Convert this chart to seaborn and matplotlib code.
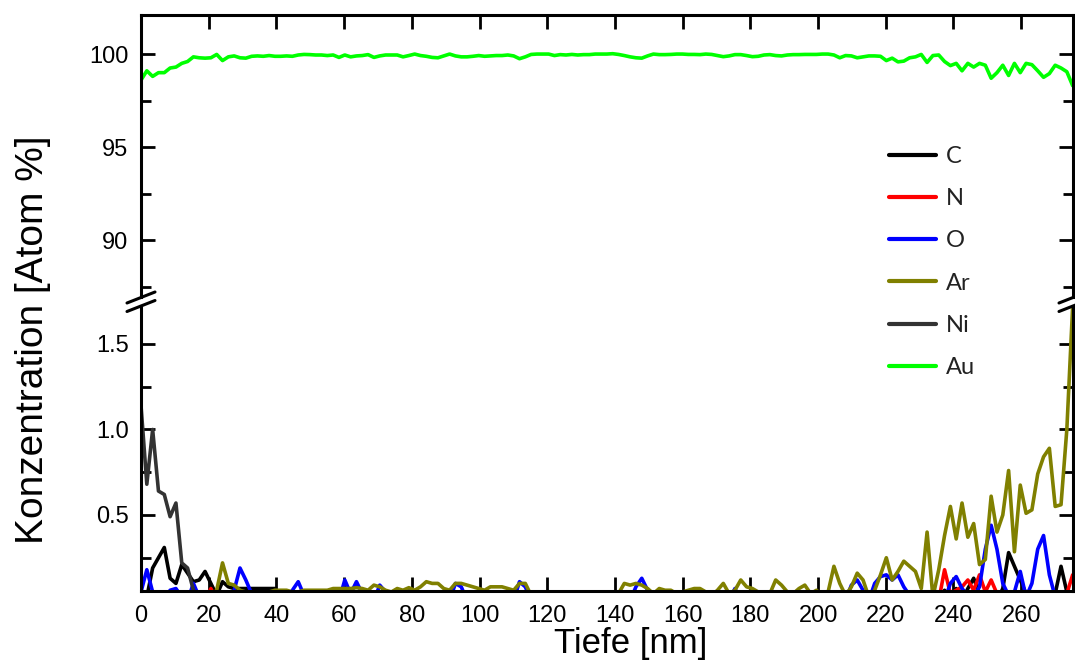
import numpy as np
import pandas as pd
import seaborn as sns
import matplotlib.pyplot as plt
from matplotlib.lines import Line2D
from matplotlib.ticker import MultipleLocator

# ========================================== DATA ==========================================

elements = ['C', 'N', 'O', 'Ar', 'Ni', 'Au']
colors = ['#000000', '#ff0000', '#0000ff', '#808000', '#333333', '#00ff00']

# depth grid of the profile (161 sputter steps)
depth = np.round(np.arange(161) * 1.72, 2)

c_values = [
    0.05, 0.02, 0.19, 0.25, 0.31, 0.13, 0.10, 0.21, 0.16, 0.11,
    0.12, 0.17, 0.10, 0.03, 0.11, 0.08, 0.07, 0.07, 0.07, 0.07,
    0.07, 0.07, 0.07, 0.07, 0.02, 0, 0, 0, 0, 0,
    0, 0, 0, 0, 0, 0, 0, 0, 0, 0,
    0, 0, 0, 0, 0, 0, 0.06, 0, 0, 0,
    0, 0, 0, 0, 0, 0, 0, 0, 0, 0,
    0, 0, 0, 0, 0, 0, 0, 0, 0, 0,
    0, 0, 0, 0, 0, 0, 0, 0, 0, 0,
    0, 0, 0, 0, 0, 0, 0, 0, 0, 0,
    0, 0, 0, 0, 0, 0, 0, 0, 0, 0,
    0, 0, 0, 0, 0, 0, 0, 0, 0, 0,
    0, 0, 0, 0, 0, 0, 0, 0, 0, 0,
    0, 0, 0, 0, 0, 0, 0, 0, 0, 0,
    0, 0, 0, 0, 0, 0, 0.04, 0, 0.06, 0,
    0.07, 0, 0.07, 0.13, 0.04, 0, 0, 0, 0.07, 0.28,
    0.20, 0.12, 0.04, 0, 0, 0, 0, 0.04, 0.20, 0.05,
    0.03,
]

n_values = [
    0, 0, 0, 0, 0, 0, 0, 0, 0, 0,
    0, 0, 0.07, 0, 0, 0, 0, 0, 0, 0,
    0, 0, 0, 0, 0, 0, 0, 0, 0, 0,
    0, 0, 0, 0, 0, 0, 0, 0, 0, 0,
    0, 0, 0, 0, 0, 0, 0, 0, 0, 0,
    0, 0, 0, 0, 0, 0, 0, 0, 0, 0,
    0, 0, 0, 0, 0, 0, 0, 0, 0, 0,
    0, 0, 0, 0, 0, 0, 0, 0, 0, 0,
    0, 0, 0, 0, 0, 0, 0, 0, 0, 0,
    0, 0, 0, 0, 0, 0, 0, 0, 0, 0,
    0, 0, 0, 0, 0, 0, 0, 0, 0, 0,
    0, 0, 0, 0, 0, 0, 0, 0, 0, 0,
    0, 0, 0, 0, 0, 0, 0, 0, 0, 0,
    0, 0, 0, 0, 0, 0, 0, 0, 0.18, 0.04,
    0.06, 0.08, 0.12, 0.06, 0.15, 0.05, 0.12, 0.04, 0, 0,
    0, 0, 0, 0, 0, 0, 0, 0, 0, 0.04,
    0.15,
]

o_values = [
    0.05, 0.18, 0.05, 0.02, 0, 0.06, 0.07, 0.02, 0, 0.10,
    0.02, 0, 0, 0, 0, 0, 0.06, 0.19, 0.12, 0.04,
    0, 0, 0, 0, 0, 0, 0.06, 0.11, 0.03, 0,
    0, 0, 0, 0, 0, 0.12, 0.04, 0.11, 0.04, 0,
    0, 0.09, 0.05, 0, 0, 0, 0.07, 0, 0, 0,
    0, 0, 0, 0, 0.10, 0.08, 0, 0, 0, 0,
    0, 0, 0, 0, 0, 0.11, 0.08, 0, 0, 0,
    0, 0, 0, 0, 0, 0, 0, 0, 0, 0,
    0, 0, 0, 0, 0, 0.08, 0.13, 0.06, 0, 0,
    0, 0, 0, 0, 0, 0, 0, 0, 0, 0,
    0, 0, 0.07, 0, 0, 0, 0, 0, 0, 0,
    0, 0, 0, 0, 0, 0, 0, 0, 0, 0,
    0, 0, 0.09, 0.12, 0.06, 0, 0.10, 0.14, 0.15, 0.12,
    0.15, 0.08, 0.03, 0, 0, 0, 0, 0, 0, 0.10,
    0.14, 0.07, 0.03, 0.02, 0.08, 0.30, 0.44, 0.30, 0.10, 0.03,
    0.05, 0.17, 0.02, 0.10, 0.30, 0.38, 0.15, 0.02, 0, 0,
    0,
]

ar_values = [
    0, 0, 0, 0, 0, 0, 0, 0, 0, 0,
    0, 0, 0.03, 0.06, 0.22, 0.10, 0.09, 0.06, 0.05, 0.05,
    0.05, 0.05, 0.05, 0.06, 0.06, 0.06, 0.05, 0.05, 0.06, 0.06,
    0.06, 0.06, 0.06, 0.07, 0.07, 0.07, 0.07, 0.075, 0.07, 0.06,
    0.09, 0.08, 0.06, 0.05, 0.07, 0.06, 0.075, 0.06, 0.08, 0.11,
    0.10, 0.10, 0.07, 0.06, 0.10, 0.10, 0.09, 0.08, 0.07, 0.06,
    0.08, 0.08, 0.08, 0.07, 0.06, 0.10, 0.10, 0.03, 0, 0,
    0, 0, 0, 0, 0, 0, 0, 0, 0, 0,
    0, 0, 0.04, 0.10, 0.09, 0.10, 0.09, 0.07, 0.04, 0.07,
    0.06, 0.06, 0.04, 0.05, 0.06, 0.07, 0.07, 0.05, 0.03, 0.06,
    0.10, 0.04, 0.06, 0.12, 0.08, 0.07, 0.05, 0.05, 0.04, 0.12,
    0.09, 0.05, 0.04, 0.07, 0.09, 0.04, 0.06, 0.03, 0.05, 0.20,
    0.10, 0.03, 0.08, 0.16, 0.12, 0.02, 0.06, 0.15, 0.25, 0.12,
    0.17, 0.23, 0.20, 0.17, 0.07, 0.40, 0.02, 0.18, 0.38, 0.55,
    0.36, 0.57, 0.37, 0.45, 0.21, 0.24, 0.61, 0.40, 0.50, 0.76,
    0.285, 0.675, 0.51, 0.53, 0.74, 0.84, 0.89, 0.55, 0.56, 1.00,
    1.72,
]

ni_values = [
    1.14, 0.68, 1.00, 0.64, 0.62, 0.49, 0.57, 0.22, 0.19, 0.06,
    0, 0, 0, 0, 0, 0, 0, 0, 0, 0,
    0, 0, 0, 0, 0, 0, 0, 0, 0, 0,
    0, 0, 0, 0, 0, 0, 0, 0, 0, 0,
    0, 0, 0, 0, 0, 0, 0, 0, 0, 0,
    0, 0, 0, 0, 0, 0, 0, 0, 0, 0,
    0, 0, 0, 0, 0, 0, 0, 0, 0, 0,
    0, 0, 0, 0, 0, 0, 0, 0, 0, 0,
    0, 0, 0, 0, 0, 0, 0, 0, 0, 0,
    0, 0, 0, 0, 0, 0, 0, 0, 0, 0,
    0, 0, 0, 0, 0, 0, 0, 0, 0, 0,
    0, 0, 0, 0, 0, 0, 0, 0, 0, 0,
    0, 0, 0, 0, 0, 0, 0, 0, 0, 0,
    0, 0, 0, 0, 0, 0, 0, 0, 0, 0,
    0, 0, 0, 0, 0, 0, 0, 0, 0, 0,
    0, 0, 0, 0, 0, 0, 0, 0, 0, 0,
    0,
]

au_values = [
    98.6, 99.1, 98.8, 99.0, 99.0, 99.25, 99.3, 99.5, 99.6, 99.85,
    99.8, 99.78, 99.8, 99.98, 99.65, 99.85, 99.9, 99.8, 99.78, 99.88,
    99.9, 99.88, 99.92, 99.88, 99.88, 99.9, 99.88, 99.95, 99.98, 99.97,
    99.95, 99.95, 99.92, 99.95, 99.82, 99.95, 99.85, 99.9, 99.92, 99.97,
    99.82, 99.9, 99.95, 99.95, 99.95, 99.85, 99.92, 100.0, 99.92, 99.88,
    99.82, 99.8, 99.9, 100.0, 99.9, 99.85, 99.85, 99.88, 99.92, 99.88,
    99.9, 99.92, 99.92, 99.95, 99.9, 99.75, 99.85, 99.98, 100.0, 100.0,
    100.0, 99.92, 99.97, 99.95, 99.98, 99.95, 99.97, 99.97, 100.0, 100.0,
    100.0, 100.02, 99.98, 99.92, 99.85, 99.8, 99.78, 99.9, 100.0, 99.97,
    99.97, 99.98, 100.0, 100.0, 99.98, 99.98, 99.97, 100.0, 99.98, 99.92,
    99.86, 99.9, 99.97, 99.97, 99.92, 99.86, 99.88, 99.95, 99.97, 99.92,
    99.9, 99.95, 99.97, 99.97, 99.98, 99.98, 99.98, 100.0, 100.0, 99.95,
    99.8, 99.92, 99.9, 99.8, 99.85, 99.9, 99.9, 99.88, 99.65, 99.78,
    99.58, 99.62, 99.8, 99.85, 99.98, 99.55, 99.92, 99.95, 99.6, 99.38,
    99.5, 99.1, 99.5, 99.3, 99.5, 99.4, 98.7, 99.0, 99.4, 98.85,
    99.5, 99.0, 99.5, 99.43, 99.1, 98.75, 98.95, 99.4, 99.25, 99.05,
    98.3,
]

x_ticks = list(range(0, 261, 20))

# ========================================== PLOT ==========================================

profile = pd.DataFrame({'C': c_values, 'N': n_values, 'O': o_values,
                        'Ar': ar_values, 'Ni': ni_values, 'Au': au_values})
profile['depth'] = depth
profile_long = profile.melt(id_vars='depth', var_name='element', value_name='conc')
palette = dict(zip(elements, colors))

sns.set_style('ticks')
plt.rcParams['font.family'] = ['Liberation Sans', 'DejaVu Sans']
plt.rcParams['text.color'] = 'black'
plt.rcParams['xtick.color'] = 'black'
plt.rcParams['ytick.color'] = 'black'

W, H = 1075, 666
fig = plt.figure(figsize=(W / 100, H / 100), dpi=100)
ax_top = fig.add_axes([141 / W, 1 - 297 / H, 932 / W, 282 / H])
ax_bot = fig.add_axes([141 / W, 1 - 591 / H, 932 / W, 285 / H])

for ax in (ax_top, ax_bot):
    sns.lineplot(data=profile_long, x='depth', y='conc', hue='element', hue_order=elements,
                 palette=palette, estimator=None, sort=False, linewidth=2.6, ax=ax, legend=False)
    ax.set_xlim(0, 275.3)
    ax.set_xlabel('')
    ax.set_ylabel('')
    for side in ('left', 'right', 'top', 'bottom'):
        ax.spines[side].set_linewidth(2.2)
        ax.spines[side].set_color('black')
    ax.tick_params(which='major', direction='in', length=10, width=2, labelsize=17,
                   left=True, right=True)
    ax.tick_params(which='minor', direction='in', length=7, width=2, left=True, right=True)
    ax.tick_params(axis='y', pad=9)
    ax.set_xticks(x_ticks)

ax_top.set_ylim(86.94, 102.1)
ax_top.yaxis.set_major_locator(MultipleLocator(5))
ax_top.yaxis.set_minor_locator(MultipleLocator(2.5))
ax_top.spines['bottom'].set_visible(False)
ax_top.tick_params(axis='x', bottom=False, top=True, labelbottom=False)

ax_bot.set_ylim(0.0556, 1.722)
ax_bot.set_yticks([0.5, 1.0, 1.5])
ax_bot.set_yticklabels(['0.5', '1.0', '1.5'])
ax_bot.yaxis.set_minor_locator(MultipleLocator(0.25))
ax_bot.spines['top'].set_visible(False)
ax_bot.tick_params(axis='x', top=False, bottom=True, pad=10)

# break marks on both vertical axes
for x0 in (141, 1073):
    for dy in (0, 8.5):
        fig.add_artist(Line2D([(x0 - 14) / W, (x0 + 14) / W],
                              [1 - (303 + dy) / H, 1 - (292 + dy) / H],
                              color='black', linewidth=2.2))

fig.text(33 / W, 1 - 340 / H, 'Konzentration [Atom %]', rotation=90, ha='center', va='center',
         fontsize=28)
fig.text(631 / W, 1 - 643 / H, 'Tiefe [nm]', ha='center', va='center', fontsize=25)

handles = [Line2D([], [], color=col, linewidth=3) for col in colors]
fig.legend(handles, elements, loc='center left', bbox_to_anchor=(889 / W, 1 - 262 / H),
           frameon=False, borderpad=0, borderaxespad=0, handlelength=2.0, handletextpad=0.4,
           labelspacing=0.9, labelcolor='#222222',
           prop={'family': ['Lato', 'DejaVu Sans'], 'size': 17})

fig.savefig('out.png', dpi=100)
